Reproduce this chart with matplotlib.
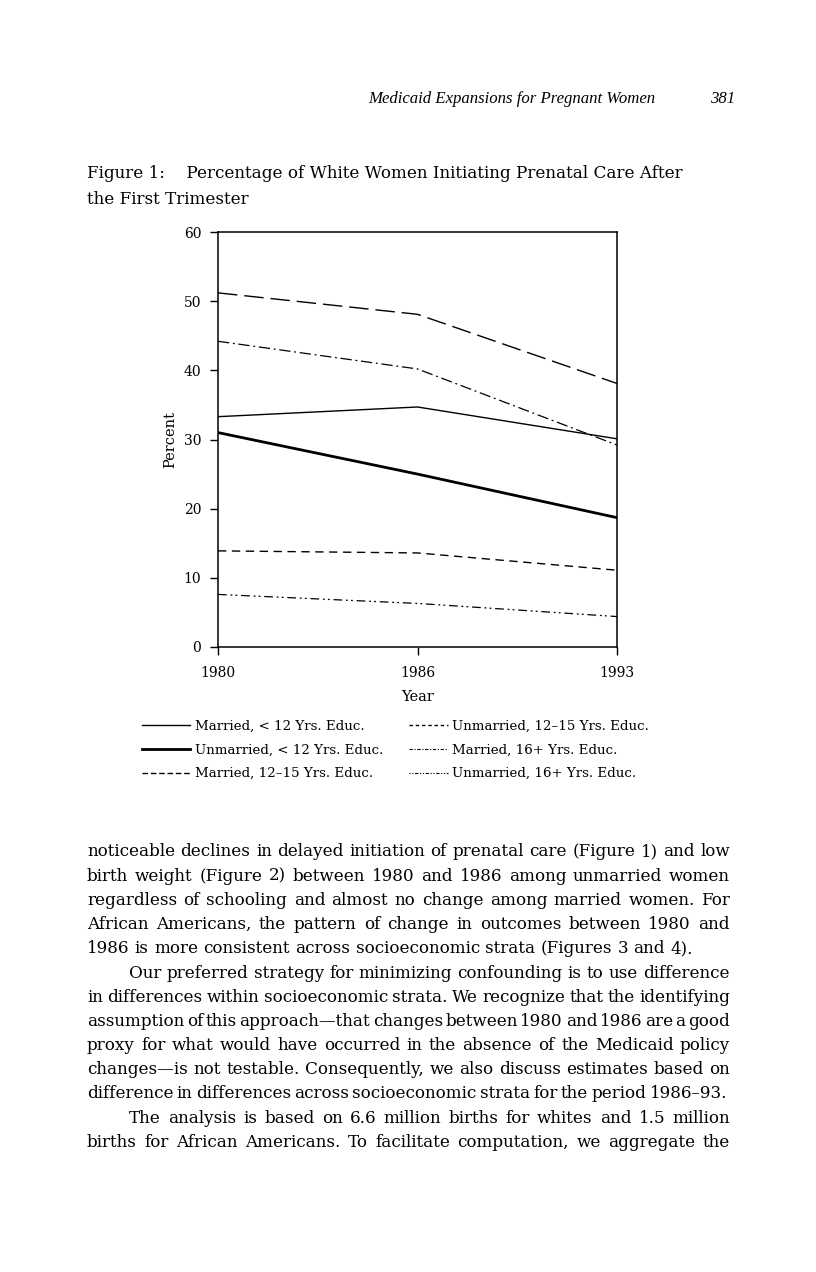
import matplotlib.pyplot as plt
from matplotlib.lines import Line2D

# data
years = ["1980", "1986", "1993"]
married_lt12 = [33.3, 34.7, 30.1]
unmarried_lt12 = [31.0, 25.0, 18.7]
married_12_15 = [51.2, 48.1, 38.1]
unmarried_12_15 = [13.9, 13.6, 11.1]
married_16 = [44.2, 40.2, 29.2]
unmarried_16 = [7.6, 6.3, 4.4]

labels = ["Married, < 12 Yrs. Educ.", "Unmarried, < 12 Yrs. Educ.",
          "Married, 12\u201315 Yrs. Educ.", "Unmarried, 12\u201315 Yrs. Educ.",
          "Married, 16+ Yrs. Educ.", "Unmarried, 16+ Yrs. Educ."]

# (text, indented, right edge in px or None for natural spacing)
body = [
    ("noticeable declines in delayed initiation of prenatal care (Figure 1) and low", 0, 730),
    ("birth weight (Figure 2) between 1980 and 1986 among unmarried women", 0, 730),
    ("regardless of schooling and almost no change among married women. For", 0, 730),
    ("African Americans, the pattern of change in outcomes between 1980 and", 0, 730),
    ("1986 is more consistent across socioeconomic strata (Figures 3 and 4).", 0, None),
    ("Our preferred strategy for minimizing confounding is to use difference", 1, 730),
    ("in differences within socioeconomic strata. We recognize that the identifying", 0, 730),
    ("assumption of this approach\u2014that changes between 1980 and 1986 are a good", 0, 730),
    ("proxy for what would have occurred in the absence of the Medicaid policy", 0, 730),
    ("changes\u2014is not testable. Consequently, we also discuss estimates based on", 0, 730),
    ("difference in differences across socioeconomic strata for the period 1986\u201393.", 0, 727),
    ("The analysis is based on 6.6 million births for whites and 1.5 million", 1, 730),
    ("births for African Americans. To facilitate computation, we aggregate the", 0, 730),
]

W, H = 816, 1272
plt.rcParams["font.family"] = ["DejaVu Serif"]
fig = plt.figure(figsize=(W / 100, H / 100), dpi=100)
fig.patch.set_facecolor("white")

ax = fig.add_axes([218 / W, 1 - 647 / H, 399 / W, 415 / H])
x = range(len(years))
ax.plot(x, married_lt12, color="black", lw=1.0, ls="-")
ax.plot(x, unmarried_lt12, color="black", lw=2.0, ls="-")
ax.plot(x, married_12_15, color="black", lw=1.0, ls=(0, (14, 5)))
ax.plot(x, unmarried_12_15, color="black", lw=1.0, ls=(0, (6, 4)))
ax.plot(x, married_16, color="black", lw=0.9, ls=(0, (9, 3, 1.5, 3)))
ax.plot(x, unmarried_16, color="black", lw=0.9, ls=(0, (7, 3, 1.5, 2.5, 1.5, 3)))
ax.set_xlim(0, 2)
ax.set_ylim(0, 60)
ax.set_xticks(list(x))
ax.set_xticklabels(years)
ax.set_yticks([0, 10, 20, 30, 40, 50, 60])
ax.tick_params(direction="out", length=6, width=1, labelsize=10)
ax.tick_params(axis="x", pad=8)
ax.tick_params(axis="y", pad=6)
for s in ax.spines.values():
    s.set_linewidth(1.1)
ax.set_ylabel("Percent", fontsize=10.5, labelpad=5)
ax.set_xlabel("Year", fontsize=10.5, labelpad=7)

left_handles = [
    Line2D([], [], color="black", lw=1.0),
    Line2D([], [], color="black", lw=2.0),
    Line2D([], [], color="black", lw=1.0, ls=(0, (4, 2))),
]
right_handles = [
    Line2D([], [], color="black", lw=1.0, ls=(0, (2.5, 2))),
    Line2D([], [], color="black", lw=0.8, ls=(0, (3, 1.5, 1, 1.5))),
    Line2D([], [], color="black", lw=0.8, ls=(0, (1, 1.5, 1, 1.5, 3, 1.5))),
]
leg1 = fig.legend(left_handles, labels[:3], frameon=False, fontsize=9.6,
                  loc="upper left", bbox_to_anchor=(137 / W, 1 - 714 / H),
                  handlelength=3.6, handletextpad=0.35, labelspacing=0.82,
                  borderaxespad=0)
leg2 = fig.legend(right_handles, labels[3:], frameon=False, fontsize=9.6,
                  loc="upper left", bbox_to_anchor=(404 / W, 1 - 714 / H),
                  handlelength=2.9, handletextpad=0.3, labelspacing=0.82,
                  borderaxespad=0)

# running head
fig.text(655 / W, 1 - 99 / H, "Medicaid Expansions for Pregnant Women",
         family="Liberation Serif", style="italic", fontsize=12.1, ha="right", va="center")
fig.text(735 / W, 1 - 99 / H, "381", family="Liberation Serif", style="italic",
         fontsize=12.1, ha="right", va="center")

# caption
fig.text(87 / W, 1 - 174 / H, "Figure 1:    Percentage of White Women Initiating Prenatal Care After",
         fontsize=12.05, ha="left", va="center")
fig.text(87 / W, 1 - 199 / H, "the First Trimester", fontsize=12.05, ha="left", va="center")

# justified body text
fig.canvas.draw()
r = fig.canvas.get_renderer()
left = 87
indent = 42
y0, dy = 852, 24.2
fs = 12.1
sp = fig.text(0, 0, "a a", fontsize=fs)
sp2 = fig.text(0, 0, "aa", fontsize=fs)
space = sp.get_window_extent(r).width - sp2.get_window_extent(r).width
sp.remove()
sp2.remove()
for i, (line, ind, right) in enumerate(body):
    y = 1 - (y0 + i * dy) / H
    words = line.split(" ")
    texts = [fig.text(0, y, wd, fontsize=fs, ha="left", va="center") for wd in words]
    widths = [t.get_window_extent(r).width for t in texts]
    start = left + ind * indent
    gap = space
    if right is not None and len(words) > 1:
        gap = (right - start - sum(widths)) / (len(words) - 1)
    xp = start
    for t, w in zip(texts, widths):
        t.set_x(xp / W)
        xp += w + gap

fig.savefig("out.png", dpi=100)
